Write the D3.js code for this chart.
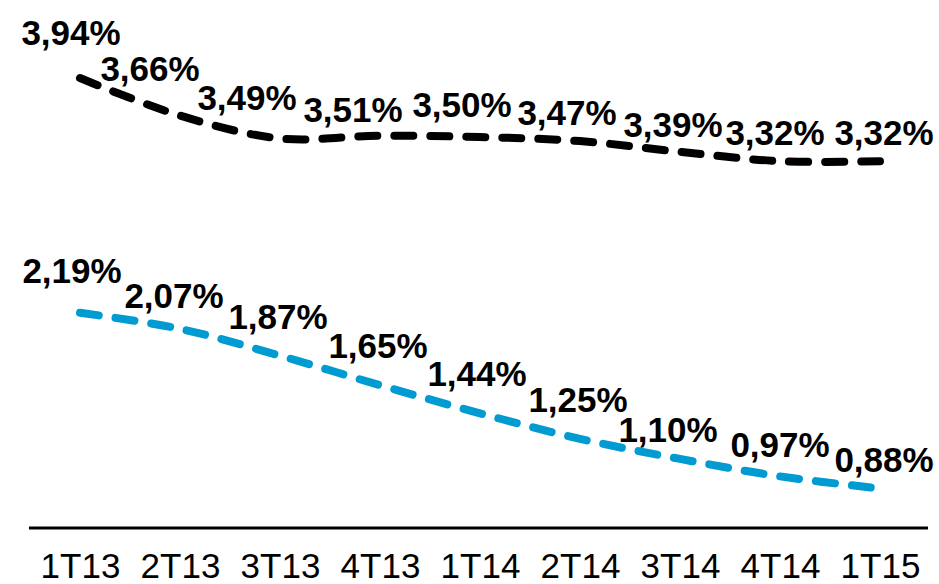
<!DOCTYPE html>
<html>
<head>
<meta charset="utf-8">
<script src="https://cdn.jsdelivr.net/npm/d3@7"></script>
<style>
  html, body { margin: 0; padding: 0; background: #fff; }
  svg { display: block; }
</style>
</head>
<body>
<svg id="chart" width="939" height="584"></svg>
<script>
// ---- data ----
const categories = ["1T13", "2T13", "3T13", "4T13", "1T14", "2T14", "3T14", "4T14", "1T15"];
const seriesTop = [3.94, 3.66, 3.49, 3.51, 3.50, 3.47, 3.39, 3.32, 3.32];
const seriesBottom = [2.19, 2.07, 1.87, 1.65, 1.44, 1.25, 1.10, 0.97, 0.88];

// ---- layout (label offsets from each point: [dx, dy]) ----
const topLabelOffsets = [[-9, -33], [-30, -35], [-33, -28], [-27, -14], [-18, -20], [-13, -16], [-7, -15], [-5, -16], [4, -16]];
const bottomLabelOffsets = [[-8, -30], [-6, -21], [-2, -27], [-2, -27], [-3, -27], [-2, -27], [-12, -17], [0, -19], [4, -16]];

const svg = d3.select("#chart");
const x = d3.scalePoint().domain(categories).range([80, 880]);
const y = d3.scaleLinear().domain([0.6, 4.0]).range([526, 70]);

const fmt = v => v.toFixed(2).replace(".", ",") + "%";

// x axis
const xAxis = d3.axisBottom(x).tickSize(0).tickPadding(0);
const gx = svg.append("g").attr("transform", "translate(0,528)").call(xAxis);
gx.select(".domain").remove();
gx.append("line")
  .attr("x1", 29).attr("x2", 928).attr("y1", 0).attr("y2", 0)
  .attr("stroke", "#000").attr("stroke-width", 3);
gx.selectAll(".tick text")
  .attr("y", 50)
  .attr("dy", null)
  .attr("fill", "#000")
  .style("font-family", "'Liberation Sans', Arial, sans-serif")
  .style("font-size", "35px");

const line = d3.line()
  .x((d, i) => x(categories[i]))
  .y(d => y(d))
  .curve(d3.curveCatmullRom.alpha(0.5));

function drawSeries(values, color, offsets) {
  svg.append("path")
    .datum(values)
    .attr("d", line)
    .attr("fill", "none")
    .attr("stroke", color)
    .attr("stroke-width", 8)
    .attr("stroke-linecap", "round")
    .attr("stroke-dasharray", "19 17");
  svg.append("g").selectAll("text")
    .data(values)
    .join("text")
    .attr("x", (d, i) => x(categories[i]) + offsets[i][0])
    .attr("y", (d, i) => y(d) + offsets[i][1])
    .attr("text-anchor", "middle")
    .attr("fill", "#000")
    .style("font-family", "'Liberation Sans', Arial, sans-serif")
    .style("font-weight", "bold")
    .style("font-size", "35px")
    .text(fmt);
}

drawSeries(seriesTop, "#000000", topLabelOffsets);
drawSeries(seriesBottom, "#009BD0", bottomLabelOffsets);
</script>
</body>
</html>
